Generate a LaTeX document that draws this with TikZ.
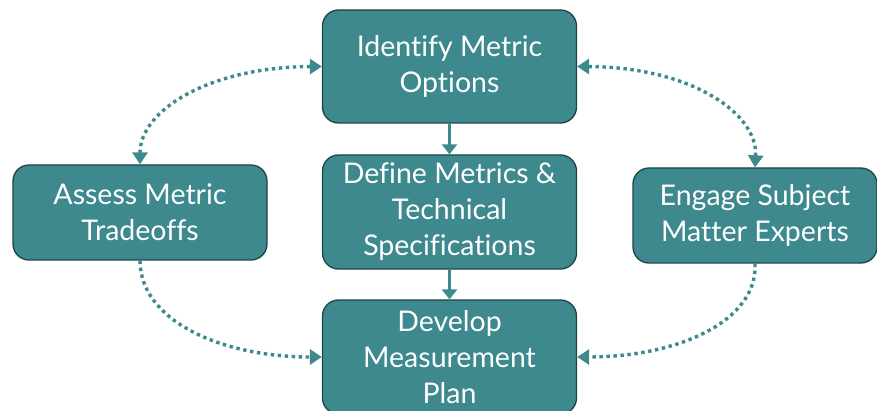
\documentclass[tikz,border=0pt]{standalone}
\usepackage{fontspec}
\setmainfont[Ligatures=NoCommon]{Lato}
\usetikzlibrary{arrows.meta}
\definecolor{tealfill}{HTML}{3D898E}
\definecolor{tealedge}{HTML}{1E4446}
\begin{document}
\begin{tikzpicture}[x=1pt,y=-1pt,
  stepbox/.style={draw=tealedge, line width=1.3pt, fill=tealfill, rounded corners=16pt,
    minimum width=254pt, text=white, align=center,
    font=\fontsize{28.5}{36}\selectfont, inner sep=0pt},
  flow/.style={draw=tealfill, line width=2.6pt, -{Triangle[length=10pt,width=15pt]}},
  loop/.style={draw=tealfill, line width=3.4pt, dash pattern=on 3.4pt off 3.6pt},
  tip/.style={-{Triangle[length=12pt,width=15pt]}},
  tips/.style={{Triangle[length=12pt,width=15pt]}-{Triangle[length=12pt,width=15pt]}}]
\useasboundingbox (0,0) rectangle (877,411);
\fill[white] (0,0) rectangle (877,411);

\node[stepbox, minimum height=113pt] (ident) at (449.5,66.5) {Identify Metric\\Options};
\node[stepbox, minimum height=114pt] (define) at (449.5,212) {Define Metrics \&\\Technical\\Specifications};
\node[stepbox, minimum height=114pt] (plan) at (449.5,357) {Develop\\Measurement\\Plan};
\node[stepbox, minimum height=95pt] (assess) at (140,212.5) {Assess Metric\\Tradeoffs};
\node[stepbox, minimum height=95pt, minimum width=244pt] (engage) at (755,215.5) {Engage Subject\\Matter Experts};

\draw[flow] (ident) -- (define);
\draw[flow] (define) -- (plan);

\draw[loop, tips] (assess.north) .. controls (140,110) and (210,67) .. (ident.west);
\draw[loop, tips] (engage.north) .. controls (758,113) and (690,67) .. (ident.east);
\draw[loop, tip] (assess.south) .. controls (140,320) and (220,357) .. (plan.west);
\draw[loop, tip] (engage.south) .. controls (758,320) and (680,357) .. (plan.east);
\end{tikzpicture}
\end{document}
